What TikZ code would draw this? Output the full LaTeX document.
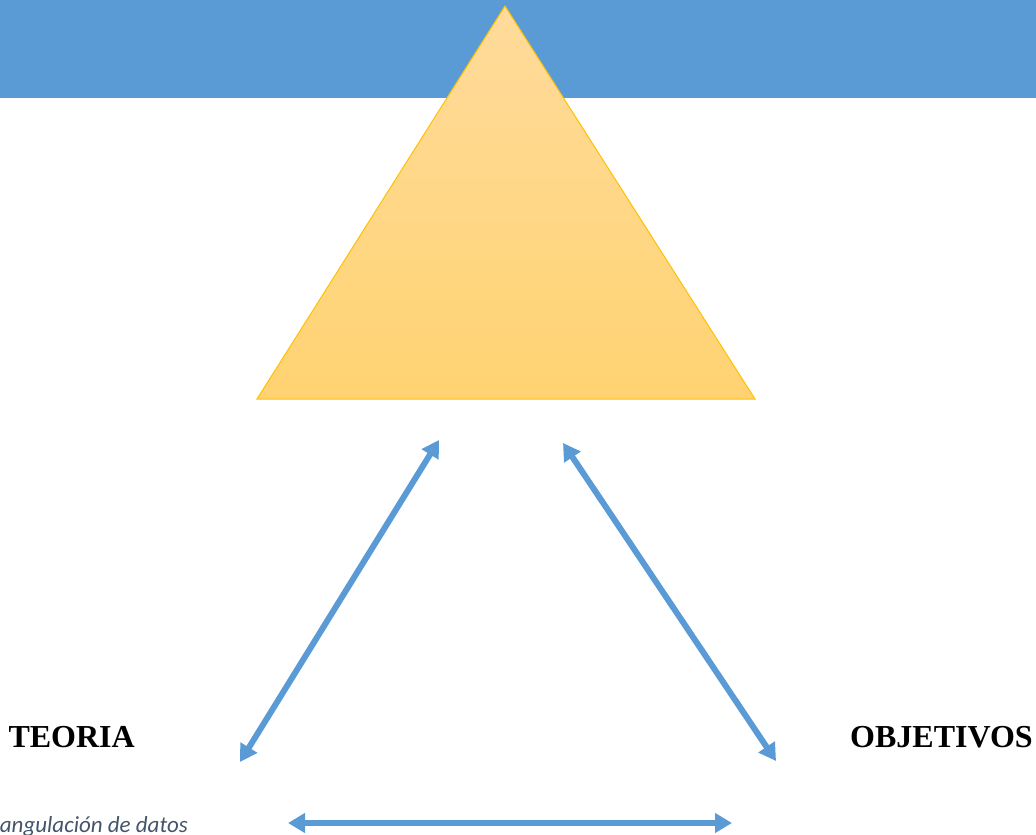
\documentclass[tikz,border=0pt]{standalone}
\usepackage{fontspec}
\setmainfont{Liberation Serif}
\newfontfamily\notefont{Carlito}
\usetikzlibrary{arrows.meta}
\definecolor{bandblue}{HTML}{5B9BD5}
\definecolor{goldtop}{HTML}{FFDB9B}
\definecolor{goldbottom}{HTML}{FFD372}
\definecolor{goldline}{HTML}{FFC000}
\definecolor{notegrey}{HTML}{44546A}
\begin{document}
\begin{tikzpicture}[x=1pt, y=-1pt,
        link/.style={draw=bandblue, line width=6pt, {Triangle[length=17pt,width=19pt]}-{Triangle[length=17pt,width=19pt]}},
        corner/.style={font=\bfseries\fontsize{32}{36}\selectfont, inner sep=0pt},
        note/.style={font=\notefont\itshape\fontsize{23}{27}\selectfont, text=notegrey, inner sep=0pt}
    ]
        \useasboundingbox (0,0) rectangle (1036,835);
        \clip (0,0) rectangle (1036,835);
        % header band and triangle
        \fill[bandblue] (0,0) rectangle (1036,98);
        \coordinate (apex) at (505,6);
        \coordinate (baseL) at (257,399);
        \coordinate (baseR) at (755,399);
        \shade[top color=goldtop, bottom color=goldbottom] (apex) -- (baseR) -- (baseL) -- cycle;
        \draw[goldline, line width=1pt, line join=miter] (apex) -- (baseR) -- (baseL) -- cycle;

        % labels
        \node[corner, anchor=base east] (teoria) at (135,747) {TEORIA};
        \node[corner, anchor=base west] (objetivos) at (850,747) {OBJETIVOS};
        \node[note, anchor=base east] (nota) at (188,832) {Triangulación de datos};

        % arrow ends
        \coordinate (leftTop) at (439,440);
        \coordinate (leftBot) at (240,762);
        \coordinate (rightTop) at (563,443);
        \coordinate (rightBot) at (776,761);
        \coordinate (baseStart) at (288,823);
        \coordinate (baseEnd) at (732,823);

        \draw[link] (leftBot) -- (leftTop);
        \draw[link] (rightTop) -- (rightBot);
        \draw[link] (baseStart) -- (baseEnd);
    \end{tikzpicture}
\end{document}
